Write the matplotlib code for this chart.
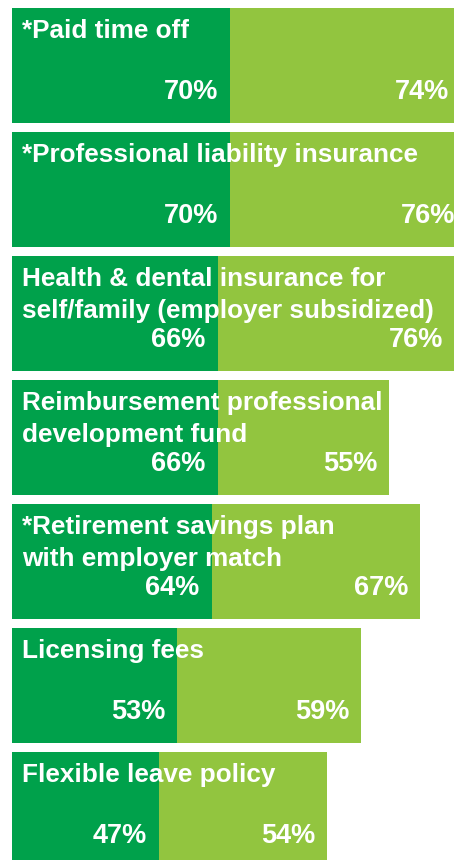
import matplotlib
matplotlib.use("Agg")
import matplotlib.pyplot as plt

# benefits and the two survey results per benefit
benefits = [
    "*Paid time off",
    "*Professional liability insurance",
    "Health & dental insurance for\nself/family (employer subsidized)",
    "Reimbursement professional\ndevelopment fund",
    "*Retirement savings plan\nwith employer match",
    "Licensing fees",
    "Flexible leave policy",
]
share_a = [70, 70, 66, 66, 64, 53, 47]
share_b = [74, 76, 76, 55, 67, 59, 54]

dark = "#00A14B"
light = "#92C53F"

plt.rcParams['font.family'] = ['Liberation Sans', 'DejaVu Sans']

fig = plt.figure(figsize=(4.54, 8.6), dpi=100)
ax = fig.add_axes([0, 0, 1, 1])

pos = list(range(len(benefits)))
h = 0.927
ax.barh(pos, share_a, height=h, color=dark)
ax.barh(pos, share_b, left=share_a, height=h, color=light)

fs = 18.8
fs_pct = 19.5
for i, name in enumerate(benefits):
    top = i - h / 2
    # one line at a time so the spacing matches
    for k, line in enumerate(name.split("\n")):
        ax.annotate(line, xy=(0, top), xytext=(7.2, -21.6 - 23 * k),
                    textcoords="offset points", ha="left", va="baseline",
                    color="white", fontsize=fs, fontweight="bold")
    ax.annotate(f"{share_a[i]}%", xy=(share_a[i], top), xytext=(-8.6, -65.5),
                textcoords="offset points", ha="right", va="baseline",
                color="white", fontsize=fs_pct, fontweight="bold")
    end = share_a[i] + share_b[i]
    ax.annotate(f"{share_b[i]}%", xy=(end, top), xytext=(-8.6, -65.5),
                textcoords="offset points", ha="right", va="baseline",
                color="white", fontsize=fs_pct, fontweight="bold",
                annotation_clip=False)

ax.set_xlim(-12 / 3.118, 442 / 3.118)
ax.set_ylim(6.407, -0.528)
ax.axis("off")

fig.savefig("out.png", dpi=100)
